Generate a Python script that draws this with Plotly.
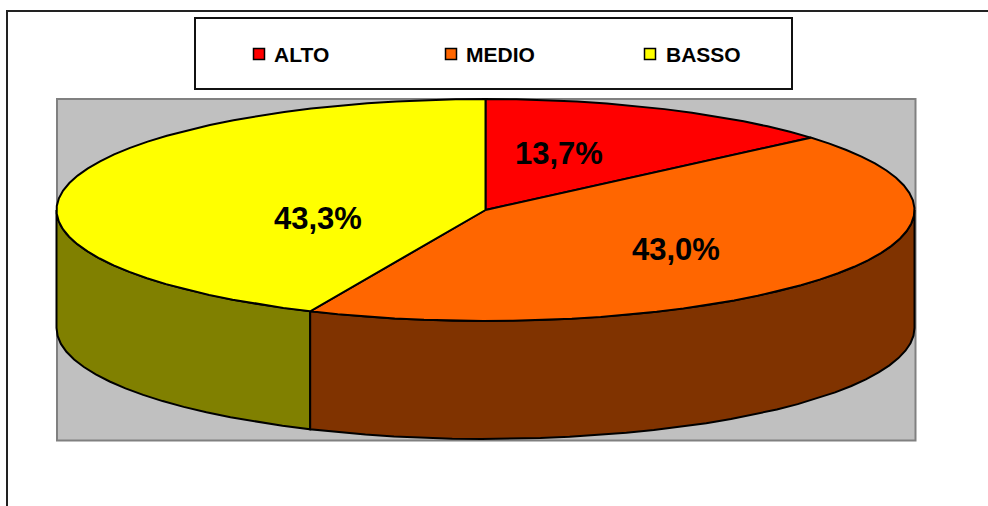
import numpy as np
import plotly.graph_objects as go

categories = ["ALTO", "MEDIO", "BASSO"]
values = [13.7, 43.0, 43.3]
value_labels = ["13,7%", "43,0%", "43,3%"]
top_colors = ["#FF0000", "#FF6600", "#FFFF00"]
side_colors = ["#800000", "#803300", "#808000"]

W, H = 988, 506
CX, CY, RX, RY, DEPTH = 485.5, 210, 429, 111, 118
STEP = 4.0
label_pos = [(559, 153), (676, 249), (318, 218)]
swatch_x = [259, 451, 650]
legend_text_x = [272, 464, 664]
LEGEND_Y = 54


def arc(a0, a1, dy=0.0):
    n = max(2, int(round((a1 - a0) / STEP)) + 1)
    t = np.radians(np.linspace(a0, a1, n))
    return CX + RX * np.sin(t), CY + dy - RY * np.cos(t)


fig = go.Figure()


def poly(x, y, color):
    fig.add_trace(go.Scatter(x=list(x), y=list(y), mode="lines", fill="toself",
                             fillcolor=color, line=dict(color="black", width=2),
                             hoverinfo="skip", showlegend=False))


edges = np.concatenate([[0], np.cumsum(values)]) * 3.6

# rim: only the part of each slice facing the viewer (90..270 degrees)
for i in range(len(values) - 1, -1, -1):
    a0, a1 = max(edges[i], 90), min(edges[i + 1], 270)
    if a1 <= a0:
        continue
    xt, yt = arc(a0, a1)
    xb, yb = arc(a0, a1, DEPTH)
    poly(np.r_[xt, xb[::-1], xt[0]], np.r_[yt, yb[::-1], yt[0]], side_colors[i])

# top face
for i in range(len(values)):
    xt, yt = arc(edges[i], edges[i + 1])
    poly(np.r_[CX, xt, CX], np.r_[CY, yt, CY], top_colors[i])

# legend swatches
fig.add_trace(go.Scatter(x=swatch_x, y=[LEGEND_Y] * 3, mode="markers",
                         marker=dict(symbol="square", size=11, color=top_colors,
                                     line=dict(color="black", width=1.5)),
                         hoverinfo="skip", showlegend=False))

annotations = []
for (x, y), t in zip(label_pos, value_labels):
    annotations.append(dict(x=x, y=y, text=f"<b>{t}</b>", showarrow=False,
                            font=dict(size=31, color="black", family="Liberation Sans")))
for x, t in zip(legend_text_x, categories):
    annotations.append(dict(x=x, y=LEGEND_Y, text=f"<b>{t}</b>", showarrow=False, xanchor="left",
                            font=dict(size=21, color="black", family="Liberation Sans")))
for a in annotations:
    a.update(xref="x", yref="y")

shapes = [
    dict(type="rect", x0=7, y0=11, x1=W + 20, y1=H + 20,
         line=dict(color="#222222", width=2), fillcolor="white", layer="below"),
    dict(type="rect", x0=195, y0=18, x1=792, y1=89,
         line=dict(color="#111111", width=2), fillcolor="white", layer="below"),
    dict(type="rect", x0=57, y0=99, x1=915.5, y1=440.5,
         line=dict(color="#808080", width=2), fillcolor="#C0C0C0", layer="below"),
]

fig.update_layout(
    width=W, height=H, margin=dict(l=0, r=0, t=0, b=0), autosize=False,
    paper_bgcolor="white", plot_bgcolor="white", showlegend=False,
    xaxis=dict(range=[0, W], visible=False, fixedrange=True),
    yaxis=dict(range=[H, 0], visible=False, fixedrange=True),
    shapes=shapes, annotations=annotations,
    font=dict(family="Liberation Sans"),
)
fig.write_html("out.html", config=dict(displayModeBar=False),
               post_script="document.body.style.margin='0';document.body.style.overflow='hidden';")
